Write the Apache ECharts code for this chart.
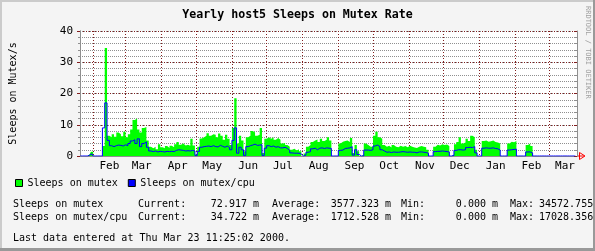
<!DOCTYPE html>
<html><head><meta charset="utf-8">
<script src="https://cdn.jsdelivr.net/npm/echarts@6/dist/echarts.min.js"></script>
<style>html,body{margin:0;padding:0;background:#f4f4f4}#c{width:595px;height:251px}</style>
</head><body><div id="c"></div>
<script>
const chartTitle = 'Yearly host5 Sleeps on Mutex Rate';
const yAxisName = 'Sleeps on Mutex/s';
const seriesNames = ['Sleeps on mutex', 'Sleeps on mutex/cpu'];
const startDate = [1999, 0, 21];
const stepDays = 2;
const mutex = [
0,0,0,0,0.6,1.4,0,0,0,0,
3.2,34.6,6.5,6.0,7.0,6.2,7.5,7.0,6.3,7.8,
6.0,7.0,8.5,11.5,12.0,8.5,7.5,9.0,9.3,5.0,
3.0,2.5,3.0,2.2,3.8,2.8,2.5,3.2,2.6,3.3,
2.8,3.8,4.5,3.6,4.0,3.4,3.6,3.3,5.5,3.4,
0.5,3.0,5.6,6.0,6.5,7.3,6.5,7.0,6.8,6.0,
7.2,6.5,5.2,6.8,5.5,3.5,9.0,18.5,4.0,6.5,
5.0,1.5,6.0,6.5,8.0,7.5,6.5,6.8,9.0,1.0,
5.5,6.0,5.5,6.0,5.2,5.8,5.2,4.0,4.2,3.5,
3.0,2.0,2.3,1.8,2.2,1.5,0,0.8,3.0,3.5,
4.5,5.0,5.3,4.5,5.5,4.8,5.2,6.0,5.0,0,
0,0,4.0,4.6,4.8,5.0,4.5,5.8,1.0,3.5,
1.5,0,0.5,4.0,3.5,3.0,3.0,6.5,7.8,6.0,
5.5,3.5,3.0,3.3,2.7,3.5,3.0,2.8,3.3,3.0,
3.2,2.8,3.3,3.0,2.7,2.6,3.0,3.2,3.0,2.8,
2.0,0,0,3.0,3.6,3.4,3.8,3.5,3.7,3.2,
0,0.5,3.8,4.5,6.0,4.0,4.3,5.5,4.8,6.5,
6.0,2.0,0,0,4.8,5.0,4.6,4.7,5.0,4.5,
4.3,4.0,0,0,0,4.0,4.6,4.4,4.8,0,
0,0,0,3.5,4.0,3.2,0,0,0,0,
0,0,0,0,0,0,0,0,0,0,
0,0,0,0,0
];
const mutexCpu = [
0,0,0,0,0.3,0.7,0,0,0,0,
9.0,17.0,5.0,3.3,3.0,3.3,3.5,3.4,3.2,3.6,
3.3,4.0,4.8,5.2,4.0,5.5,3.0,4.0,4.5,2.8,
1.6,1.4,1.6,1.3,1.5,1.4,1.3,1.5,1.4,1.5,
1.4,1.8,2.0,1.9,1.8,1.6,1.7,1.6,1.8,1.6,
0.2,1.5,2.8,3.0,3.1,3.2,3.0,3.3,3.0,2.9,
3.4,3.1,2.8,3.2,2.7,2.0,5.0,9.0,0.9,2.8,
2.0,0.2,3.0,3.3,3.5,3.8,3.4,3.5,3.6,0.2,
2.5,3.3,3.0,3.2,2.8,3.0,2.6,2.6,2.8,2.4,
1.8,1.0,0.9,0.9,0.9,0.6,0,0.3,1.2,1.4,
2.3,2.5,2.0,2.5,2.6,2.4,2.6,2.5,2.4,0,
0,0,1.8,1.9,2.4,2.5,2.6,3.0,0.3,2.0,
0.5,0,0,1.9,1.9,1.8,2.0,3.2,3.5,3.0,
2.0,1.6,1.2,1.3,1.1,1.3,1.2,1.2,1.3,1.4,
1.3,1.2,1.3,1.2,1.2,1.0,1.3,1.3,1.2,1.1,
0.9,0,0,1.4,1.5,1.5,1.6,1.5,1.4,1.3,
0,0.2,1.8,2.0,2.0,1.9,2.0,2.7,2.8,2.7,
3.0,1.0,0,0,2.5,2.6,2.5,2.5,2.6,2.4,
2.3,1.9,0,0,0,1.9,2.0,2.1,2.2,0,
0,0,0,1.3,1.3,1.0,0,0,0,0,
0,0,0,0,0,0,0,0,0,0,
0,0,0,0,0
];
const monthStarts = [[1999,1],[1999,2],[1999,3],[1999,4],[1999,5],[1999,6],[1999,7],[1999,8],[1999,9],[1999,10],[1999,11],[2000,0],[2000,1],[2000,2]];
const monthLabels = ['Feb','Mar','Apr','May','Jun','Jul','Aug','Sep','Oct','Nov','Dec','Jan','Feb','Mar'];
const yTicks = [0, 10, 20, 30, 40];
const statCurrent = [72.917, 34.722];
const statAverage = [3577.323, 1712.528];
const statMin = [0.000, 0.000];
const statMax = [34572.755, 17028.356];
const lastUpdate = 'Last data entered at Thu Mar 23 11:25:02 2000.';
const credit = 'RRDTOOL / TOBI OETIKER';

const DAY = 86400000;
const MONO = '"DejaVu Sans Mono", monospace';
const RED = '#821e1e';
const GRAY = '#8f8f8f';
const yMin = yTicks[0], yMax = yTicks[yTicks.length - 1];
const t0 = new Date(startDate[0], startDate[1], startDate[2]).getTime();
const xMin = new Date(1999, 0, 20, 14, 40).getTime();
const xMax = new Date(2000, 2, 25, 9, 40).getTime();
const monthTs = monthStarts.map(m => new Date(m[0], m[1], 1).getTime());
const toPairs = arr => arr.map((v, i) => [t0 + i * stepDays * DAY, v]);
const fmt = v => v.toFixed(3) + ' m';

const chart = echarts.init(document.getElementById('c'), null, {renderer: 'canvas'});

const statRows = [0, 1].map(k => {
  const y = 204 + k * 13;
  const T = (x, text, align) => ({type:'text', x, y, style:{text, font:'10px '+MONO, fill:'#000', align: align || 'left', verticalAlign:'middle'}});
  return [
    T(13, seriesNames[k]), T(138, 'Current:'), T(259, fmt(statCurrent[k]), 'right'),
    T(272, 'Average:'), T(391, fmt(statAverage[k]), 'right'),
    T(401, 'Min:'), T(498, fmt(statMin[k]), 'right'),
    T(510, 'Max:'), T(539, statMax[k].toFixed(3) + ' m')
  ];
}).flat();

chart.setOption({
  animation: false,
  backgroundColor: '#f4f4f4',
  grid: {left: 75, right: 18, top: 31, bottom: 95, show: true, backgroundColor: '#ffffff', borderWidth: 0},
  legend: {
    data: seriesNames, left: 15, top: 178, padding: 0, itemGap: 10, itemWidth: 7, itemHeight: 7,
    icon: 'rect', itemStyle: {borderColor: '#000', borderWidth: 1},
    textStyle: {fontFamily: MONO, fontSize: 10, color: '#000'}
  },
  xAxis: {
    type: 'time', min: xMin, max: xMax,
    minInterval: 28 * DAY, maxInterval: 31 * DAY,
    axisLine: {show: true, lineStyle: {color: GRAY, width: 1}},
    axisTick: {show: false}, axisLabel: {show: false},
    splitLine: {show: true, lineStyle: {color: RED, type: [1, 2], width: 1}}
  },
  yAxis: [{
    type: 'value', min: yMin, max: yMax, interval: 2, position: 'left',
    name: yAxisName, nameLocation: 'middle', nameGap: 62, nameRotate: 90,
    nameTextStyle: {fontFamily: MONO, fontSize: 10, color: '#000'},
    axisLine: {show: true, lineStyle: {color: GRAY}},
    axisTick: {show: true, length: 2, lineStyle: {color: GRAY}},
    axisLabel: {fontFamily: MONO, fontSize: 11, color: '#000', margin: 7,
      formatter: v => (yTicks.indexOf(v) >= 0 ? String(v) : '')},
    splitLine: {show: true, lineStyle: {color: GRAY, type: [1, 1], width: 1}}
  }, {
    type: 'value', min: yMin, max: yMax, interval: 10, position: 'left', offset: 0,
    axisLine: {show: true, lineStyle: {color: GRAY}},
    axisTick: {show: true, length: 3, lineStyle: {color: RED}},
    axisLabel: {show: false},
    splitLine: {show: true, lineStyle: {color: RED, type: [1, 2], width: 1}}
  }, {
    type: 'value', min: yMin, max: yMax, interval: 10, position: 'right',
    axisLine: {show: true, lineStyle: {color: GRAY}},
    axisTick: {show: true, inside: true, length: 3, lineStyle: {color: RED}},
    minorTick: {show: true, splitNumber: 5, length: 2, lineStyle: {color: GRAY}},
    axisLabel: {show: false}, splitLine: {show: false}
  }],
  series: [{
    name: seriesNames[0], type: 'line', step: 'middle', symbol: 'none', z: 2,
    color: '#00ff00', itemStyle: {color: '#00ff00'},
    lineStyle: {width: 0, color: '#00ff00'},
    areaStyle: {color: '#00ff00', opacity: 1},
    data: toPairs(mutex)
  }, {
    name: seriesNames[1], type: 'line', step: 'middle', symbol: 'none', z: 3,
    color: '#0000ff', itemStyle: {color: '#0000ff'},
    lineStyle: {width: 1, color: '#0000ff'},
    data: toPairs(mutexCpu)
  }, {
    name: 'months', type: 'scatter', symbolSize: 1, z: 4, silent: true, clip: false,
    itemStyle: {color: 'rgba(0,0,0,0)'},
    label: {show: true, position: 'bottom', distance: 4, formatter: '{b}', color: '#000', fontFamily: MONO, fontSize: 11, opacity: 1},
    data: monthLabels.map((m, i) => ({name: m, value: [monthTs[i] + 14 * DAY, 0]}))
  }],
  graphic: [
    {type:'text', x:297.5, y:15, style:{text: chartTitle, font:'bold 11.6px '+MONO, fill:'#000', align:'center', verticalAlign:'middle'}},
    {type:'text', x:588, y:6, rotation:-Math.PI/2, style:{text: credit, font:'7px '+MONO, fill:'#a0a0a0', align:'left', verticalAlign:'middle'}},
    {type:'polyline', shape:{points:[[577,156],[584,156]]}, style:{stroke:'#ff0000', lineWidth:1, fill:null}},
    {type:'polygon', shape:{points:[[579.5,152.5],[585,156],[579.5,159.5]]}, style:{stroke:'#ff0000', lineWidth:1, fill:null}},
    ...statRows,
    {type:'text', x:13, y:238, style:{text: lastUpdate, font:'10px '+MONO, fill:'#000', verticalAlign:'middle'}},
    {type:'rect', shape:{x:0, y:0, width:595, height:2}, style:{fill:'#cbcbcb'}},
    {type:'rect', shape:{x:0, y:0, width:2, height:251}, style:{fill:'#cbcbcb'}},
    {type:'rect', shape:{x:0, y:248, width:595, height:3}, style:{fill:'#999999'}},
    {type:'rect', shape:{x:593, y:0, width:2, height:251}, style:{fill:'#999999'}}
  ]
});
</script></body></html>
